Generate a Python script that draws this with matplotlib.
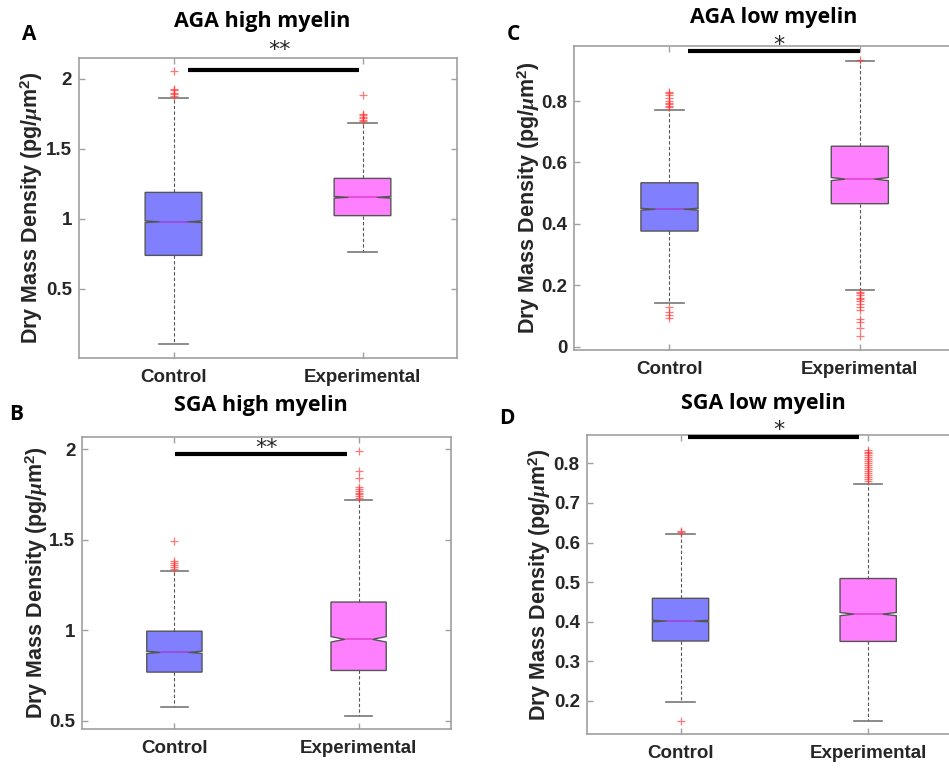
import matplotlib
matplotlib.use('Agg')
import matplotlib.pyplot as plt

plt.rcParams['font.family'] = ['Liberation Sans', 'DejaVu Sans']
plt.rcParams['font.weight'] = 'bold'
plt.rcParams['mathtext.fontset'] = 'custom'
plt.rcParams['mathtext.rm'] = 'Liberation Sans:bold'
plt.rcParams['mathtext.bf'] = 'Liberation Sans:bold'
plt.rcParams['mathtext.it'] = 'Liberation Serif:italic'

# ---------------- data ----------------
categories = ['Control', 'Experimental']
panel_titles = ['AGA high myelin', 'SGA high myelin', 'AGA low myelin', 'SGA low myelin']
panel_letters = ['A', 'B', 'C', 'D']
ylabel = r'Dry Mass Density (pg/$\mu$m$^{2}$)'

# Panel A: AGA high myelin
a_q1 = [0.740, 1.024]
a_med = [0.980, 1.155]
a_q3 = [1.190, 1.290]
a_whislo = [0.107, 0.766]
a_whishi = [1.866, 1.688]
a_ci = [0.006, 0.006]
a_fliers_control = [2.06, 1.93, 1.92, 1.90, 1.89, 1.88]
a_fliers_exp = [1.888, 1.75, 1.74, 1.73, 1.72, 1.71, 1.70]
a_sig = (1.077, 1.98, 2.066, '**')
a_ylim = (0.007, 2.15)
a_yticks = [0.5, 1, 1.5, 2]

# Panel B: SGA high myelin
b_q1 = [0.768, 0.777]
b_med = [0.877, 0.949]
b_q3 = [0.994, 1.155]
b_whislo = [0.577, 0.526]
b_whishi = [1.328, 1.717]
b_ci = [0.006, 0.015]
b_fliers_control = [1.49, 1.38, 1.37, 1.36, 1.35, 1.34]
b_fliers_exp = [1.99, 1.88, 1.84, 1.79, 1.78, 1.77, 1.76, 1.75, 1.74, 1.73]
b_sig = (1.005, 1.935, 1.974, '**')
b_ylim = (0.452, 2.065)
b_yticks = [0.5, 1, 1.5, 2]

# Panel C: AGA low myelin
c_q1 = [0.377, 0.466]
c_med = [0.448, 0.546]
c_q3 = [0.534, 0.653]
c_whislo = [0.143, 0.186]
c_whishi = [0.770, 0.931]
c_ci = [0.003, 0.005]
c_fliers_control = [0.830, 0.825, 0.820, 0.810, 0.800, 0.795, 0.790, 0.785, 0.780,
                    0.130, 0.115, 0.105, 0.095]
c_fliers_exp = [0.935, 0.180, 0.175, 0.170, 0.160, 0.155, 0.150, 0.140, 0.130, 0.120,
                0.090, 0.080, 0.060, 0.035]
c_sig = (1.095, 2.0, 0.963, '*')
c_ylim = (-0.01, 0.979)
c_yticks = [0, 0.2, 0.4, 0.6, 0.8]

# Panel D: SGA low myelin
d_q1 = [0.351, 0.350]
d_med = [0.4015, 0.419]
d_q3 = [0.459, 0.509]
d_whislo = [0.198, 0.149]
d_whishi = [0.621, 0.749]
d_ci = [0.002, 0.004]
d_fliers_control = [0.630, 0.627, 0.150]
d_fliers_exp = [0.835, 0.830, 0.825, 0.820, 0.815, 0.810, 0.805, 0.800, 0.795, 0.790,
                0.785, 0.780, 0.775, 0.770, 0.765, 0.760, 0.755]
d_sig = (1.04, 1.95, 0.867, '*')
d_ylim = (0.116, 0.871)
d_yticks = [0.2, 0.3, 0.4, 0.5, 0.6, 0.7, 0.8]

# ---------------- layout ----------------
W, H = 949, 768
fig = plt.figure(figsize=(W / 100, H / 100), dpi=100)
fig.patch.set_facecolor('white')


def axes_px(l, r, t, b):
    return fig.add_axes([l / W, 1 - b / H, (r - l) / W, (b - t) / H])


fill_colors = ['#8080FF', '#FF80FF']
spine_color = '#A0A0A0'
text_color = '#262626'


def draw_panel(ax, q1, med, q3, wlo, whi, ci, fliers, sig, ylim, yticks, sig_text_y):
    stats = []
    for i, cat in enumerate(categories):
        stats.append(dict(label=cat, q1=q1[i], med=med[i], q3=q3[i],
                          whislo=wlo[i], whishi=whi[i], fliers=fliers[i],
                          cilo=med[i] - ci[i], cihi=med[i] + ci[i]))
    bp = ax.bxp(stats, positions=[1, 2], widths=0.3, capwidths=0.15,
                patch_artist=True, shownotches=True,
                boxprops=dict(edgecolor='#555555', linewidth=1.0),
                whiskerprops=dict(color='#555555', linewidth=0.8, linestyle=(0, (3, 2))),
                capprops=dict(color='#777777', linewidth=1.2),
                medianprops=dict(color='#C000A0', alpha=0.45, linewidth=1.2),
                flierprops=dict(marker='+', markeredgecolor='#FF3030', alpha=0.65,
                                markersize=6, markeredgewidth=0.9, linestyle='none'))
    for patch, col in zip(bp['boxes'], fill_colors):
        patch.set_facecolor(col)
    ax.set_xlim(0.5, 2.5)
    ax.set_ylim(*ylim)
    ax.set_yticks(yticks)
    ax.set_yticklabels([('%g' % v) for v in yticks])
    ax.set_xticks([1, 2])
    ax.set_xticklabels(categories)
    ax.tick_params(direction='in', top=True, right=True, length=4, width=1,
                   color=spine_color, labelsize=13.5, labelcolor=text_color)
    ax.tick_params(axis='x', pad=8)
    ax.tick_params(axis='y', pad=5)
    for s in ax.spines.values():
        s.set_color(spine_color)
        s.set_linewidth(1.2)
    x1, x2, y, lab = sig
    ax.plot([x1, x2], [y, y], color='black', linewidth=3, solid_capstyle='butt',
            clip_on=False, zorder=5)
    ax.text((x1 + x2) / 2 + 0.03, sig_text_y, lab, ha='center', va='center',
            fontsize=16, fontweight='normal', color=text_color, clip_on=False,
            family='DejaVu Sans')


axA = axes_px(79, 457, 58, 358)
draw_panel(axA, a_q1, a_med, a_q3, a_whislo, a_whishi, a_ci,
           [a_fliers_control, a_fliers_exp], a_sig, a_ylim, a_yticks, 2.205)

axB = axes_px(82.3, 450.7, 437.3, 729.3)
draw_panel(axB, b_q1, b_med, b_q3, b_whislo, b_whishi, b_ci,
           [b_fliers_control, b_fliers_exp], b_sig, b_ylim, b_yticks, 2.005)

axC = axes_px(574.3, 955, 46, 350)
draw_panel(axC, c_q1, c_med, c_q3, c_whislo, c_whishi, c_ci,
           [c_fliers_control, c_fliers_exp], c_sig, c_ylim, c_yticks, 0.982)

axD = axes_px(586.7, 962, 435.3, 734)
draw_panel(axD, d_q1, d_med, d_q3, d_whislo, d_whishi, d_ci,
           [d_fliers_control, d_fliers_exp], d_sig, d_ylim, d_yticks, 0.884)

# y labels
for x, yc in [(32, 208), (37, 583), (529, 198), (540, 585)]:
    fig.text(x / W, 1 - yc / H, ylabel, rotation=90, ha='center', va='center',
             fontsize=15.5, color=text_color)

# titles
for (x, y), t in zip([(262, 21), (261, 405), (774, 18), (763, 404)], panel_titles):
    fig.text(x / W, 1 - y / H, t, ha='center', va='center', fontsize=15.5,
             fontweight='bold', family='Open Sans', color='black')

# panel letters
for (x, y), t in zip([(29, 35), (16, 414), (513, 34), (507, 418)], panel_letters):
    fig.text(x / W, 1 - y / H, t, ha='center', va='center', fontsize=15,
             fontweight='bold', family='Open Sans', color='black')

fig.savefig('out.png', dpi=100)
